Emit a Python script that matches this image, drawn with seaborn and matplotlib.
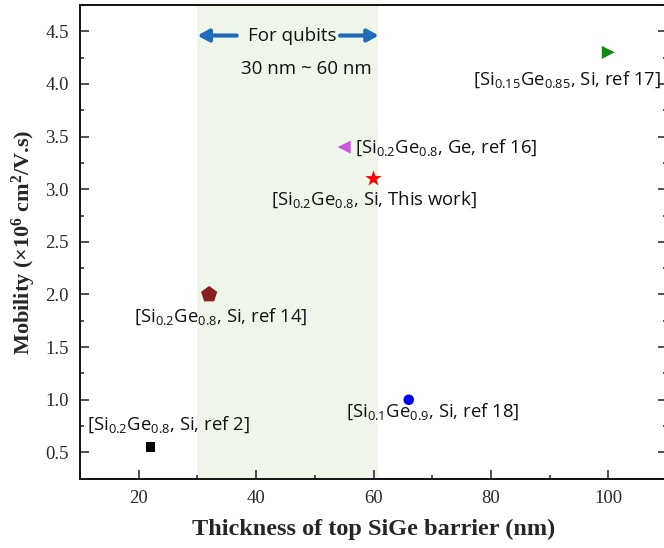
import matplotlib
matplotlib.use("Agg")
import matplotlib.pyplot as plt
import seaborn as sns
import pandas as pd
from matplotlib.ticker import MultipleLocator

# Reported hole mobility versus top SiGe barrier thickness
sources = ["ref 2", "ref 14", "ref 18", "This work", "ref 16", "ref 17"]
thickness_nm = [22, 32, 66, 60, 55, 100]
mobility = [0.55, 2.0, 1.0, 3.1, 3.4, 4.3]
point_labels = [
    r"[Si$_{0.2}$Ge$_{0.8}$, Si, ref 2]",
    r"[Si$_{0.2}$Ge$_{0.8}$, Si, ref 14]",
    r"[Si$_{0.1}$Ge$_{0.9}$, Si, ref 18]",
    r"[Si$_{0.2}$Ge$_{0.8}$, Si, This work]",
    r"[Si$_{0.2}$Ge$_{0.8}$, Ge, ref 16]",
    r"[Si$_{0.15}$Ge$_{0.85}$, Si, ref 17]",
]
qubit_window = [30, 60.7]

marker_map = dict(zip(sources, ["s", "p", "o", "*", "<", ">"]))
color_map = dict(zip(sources, ["#000000", "#8B1E1E", "#0000FF", "#FF0000", "#CC55E0", "#138A13"]))
size_map = dict(zip(sources, [48, 150, 58, 150, 88, 88]))
# label anchor (x, y) in data units and horizontal alignment
label_pos = {
    "ref 2": (25.1, 0.76, "center"),
    "ref 14": (34.0, 1.79, "center"),
    "ref 18": (70.1, 0.885, "center"),
    "This work": (60.0, 2.9, "center"),
    "ref 16": (56.8, 3.39, "left"),
    "ref 17": (92.9, 4.035, "center"),
}

df = pd.DataFrame({"thickness": thickness_nm, "mobility": mobility, "source": sources})

sns.set_theme(style="ticks")
plt.rcParams["mathtext.default"] = "regular"
label_font = ["Open Sans", "DejaVu Sans"]
serif_font = ["Liberation Serif", "DejaVu Serif"]

fig = plt.figure(figsize=(6.64, 5.48), dpi=100)
ax = fig.add_axes([80 / 664, 69.3 / 548, 587 / 664, 473.7 / 548])

ax.axvspan(qubit_window[0], qubit_window[1], color="#EEF6EA", zorder=0, lw=0)

sns.scatterplot(
    data=df, x="thickness", y="mobility",
    hue="source", palette=color_map,
    style="source", markers=marker_map,
    size="source", sizes=size_map,
    linewidth=0, legend=False, ax=ax, zorder=3,
)

for src, text in zip(sources, point_labels):
    lx, ly, ha = label_pos[src]
    ax.text(lx, ly, text, ha=ha, va="center", fontsize=13.3,
            family=label_font, color="#111111", zorder=4)

# qubit thickness window annotation
arrow_kw = dict(arrowstyle="-|>,head_length=0.55,head_width=0.3", color="#1F6BB8",
                lw=3.0, shrinkA=0, shrinkB=0)
ax.annotate("", xy=(qubit_window[0], 4.46), xytext=(36.7, 4.46), arrowprops=arrow_kw)
ax.annotate("", xy=(qubit_window[1] + 0.2, 4.46), xytext=(54.3, 4.46), arrowprops=arrow_kw)
ax.text(46.2, 4.46, "For qubits", ha="center", va="center", fontsize=13.5,
        family=label_font, color="#111111")
ax.text(48.5, 4.14, "30 nm ~ 60 nm", ha="center", va="center", fontsize=13.5,
        family=label_font, color="#111111")

ax.set_xlim(10, 110)
ax.set_ylim(0.25, 4.75)
ax.xaxis.set_major_locator(MultipleLocator(20))
ax.xaxis.set_minor_locator(MultipleLocator(10))
ax.yaxis.set_major_locator(MultipleLocator(0.5))
ax.yaxis.set_minor_locator(MultipleLocator(0.25))
ax.set_xticks([20, 40, 60, 80, 100])
ax.set_xticklabels(["20", "40", "60", "80", "100"])
ax.set_yticks([0.5, 1.0, 1.5, 2.0, 2.5, 3.0, 3.5, 4.0, 4.5])
ax.set_yticklabels(["0.5", "1.0", "1.5", "2.0", "2.5", "3.0", "3.5", "4.0", "4.5"])

ax.tick_params(which="both", direction="in", top=False, right=True, width=1.1, color="#222222")
ax.tick_params(which="major", length=6.5, labelsize=13.5, pad=8, labelcolor="#2A2A2A")
ax.tick_params(which="minor", length=3)
for lbl in ax.get_xticklabels() + ax.get_yticklabels():
    lbl.set_family(serif_font)

for sp in ax.spines.values():
    sp.set_linewidth(1.4)
    sp.set_color("#111111")

ax.set_xlabel("Thickness of top SiGe barrier (nm)", family=serif_font,
              fontsize=17.5, fontweight="bold", labelpad=9)
ax.set_ylabel(r"Mobility ($\times$10$^{6}$ cm$^{2}$/V.s)", family=serif_font,
              fontsize=16, fontweight="bold", labelpad=5)

fig.savefig("out.png", dpi=100)
